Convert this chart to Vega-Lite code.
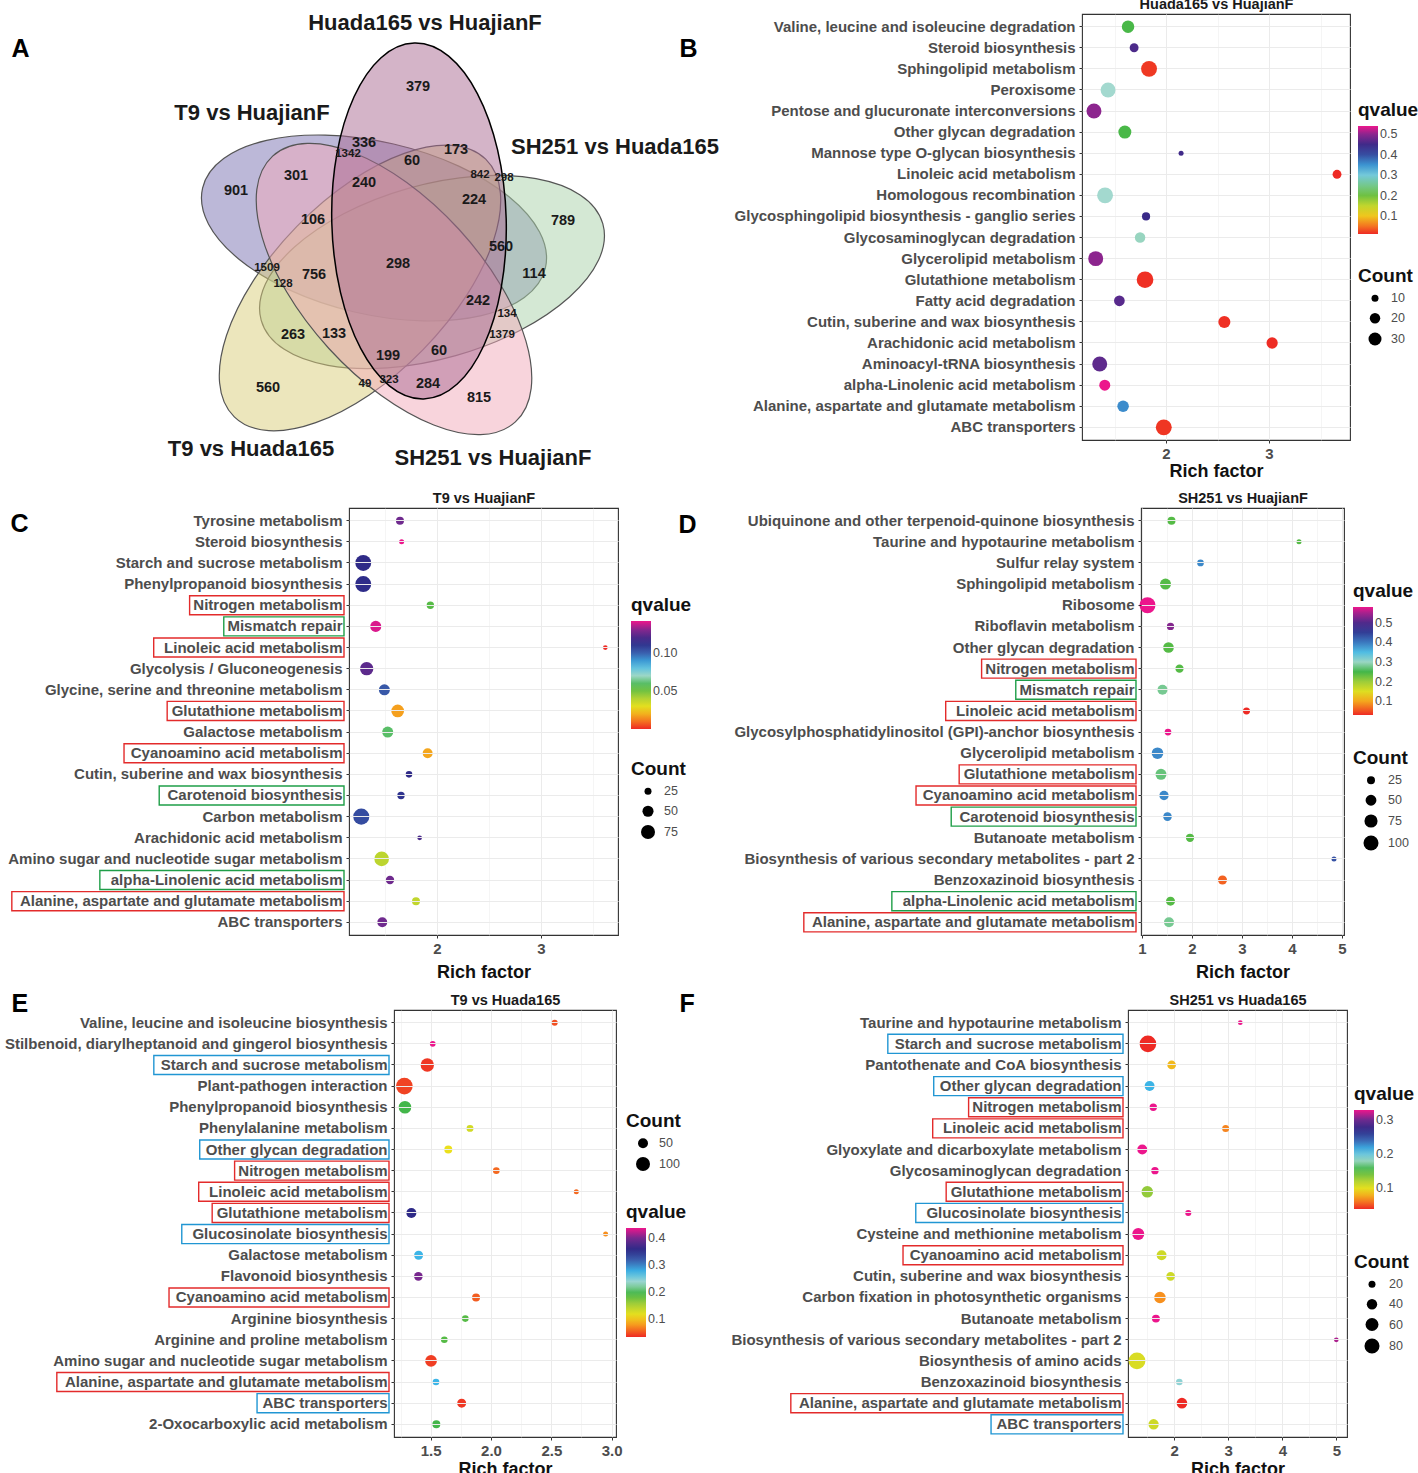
{
  "$schema": "https://vega.github.io/schema/vega-lite/v6.json",
  "padding": {"left": 3, "top": -5, "right": 0, "bottom": 0},
  "config": {
    "font": "Liberation Sans",
    "view": {"stroke": "#333333", "strokeWidth": 1.1},
    "legend": {"titleFontSize": 19, "titleFontWeight": "bold", "titleColor": "#111111", "labelFontSize": 12.5, "labelColor": "#4d4d4d", "gradientStrokeWidth": 0, "symbolFillColor": "#000000", "symbolStrokeWidth": 0, "symbolType": "circle", "symbolOpacity": 1, "symbolOffset": 10, "rowPadding": 7, "titlePadding": 6, "labelOffset": 9, "labelOverlap": false},
    "axis": {"labelColor": "#4d4d4d", "labelFontWeight": "bold", "tickColor": "#333333", "tickSize": 3, "domain": false, "gridColor": "#ebebeb"}
  },
  "datasets": {
    "B": [
      {"pathway": "Valine, leucine and isoleucine degradation", "rich": 1.631, "count": 28, "q": 0.22},
      {"pathway": "Steroid biosynthesis", "rich": 1.69, "count": 15, "q": 0.46},
      {"pathway": "Sphingolipid metabolism", "rich": 1.835, "count": 44, "q": 0.02},
      {"pathway": "Peroxisome", "rich": 1.437, "count": 39, "q": 0.276},
      {"pathway": "Pentose and glucuronate interconversions", "rich": 1.3, "count": 39, "q": 0.5},
      {"pathway": "Other glycan degradation", "rich": 1.6, "count": 30, "q": 0.22},
      {"pathway": "Mannose type O-glycan biosynthesis", "rich": 2.146, "count": 6, "q": 0.45},
      {"pathway": "Linoleic acid metabolism", "rich": 3.66, "count": 15, "q": 0.012},
      {"pathway": "Homologous recombination", "rich": 1.408, "count": 44, "q": 0.276},
      {"pathway": "Glycosphingolipid biosynthesis - ganglio series", "rich": 1.806, "count": 13, "q": 0.445},
      {"pathway": "Glycosaminoglycan degradation", "rich": 1.748, "count": 20, "q": 0.27},
      {"pathway": "Glycerolipid metabolism", "rich": 1.317, "count": 39, "q": 0.5},
      {"pathway": "Glutathione metabolism", "rich": 1.796, "count": 48, "q": 0.015},
      {"pathway": "Fatty acid degradation", "rich": 1.547, "count": 21, "q": 0.47},
      {"pathway": "Cutin, suberine and wax biosynthesis", "rich": 2.566, "count": 26, "q": 0.015},
      {"pathway": "Arachidonic acid metabolism", "rich": 3.03, "count": 23, "q": 0.013},
      {"pathway": "Aminoacyl-tRNA biosynthesis", "rich": 1.356, "count": 39, "q": 0.475},
      {"pathway": "alpha-Linolenic acid metabolism", "rich": 1.405, "count": 22, "q": 0.54},
      {"pathway": "Alanine, aspartate and glutamate metabolism", "rich": 1.583, "count": 24, "q": 0.355},
      {"pathway": "ABC transporters", "rich": 1.978, "count": 44, "q": 0.018}
    ],
    "C": [
      {"pathway": "Tyrosine metabolism", "rich": 1.644, "count": 30, "q": 0.128},
      {"pathway": "Steroid biosynthesis", "rich": 1.66, "count": 17, "q": 0.142},
      {"pathway": "Starch and sucrose metabolism", "rich": 1.291, "count": 94, "q": 0.114},
      {"pathway": "Phenylpropanoid biosynthesis", "rich": 1.291, "count": 95, "q": 0.113},
      {"pathway": "Nitrogen metabolism", "rich": 1.936, "count": 27, "q": 0.054, "group": "shared"},
      {"pathway": "Mismatch repair", "rich": 1.411, "count": 50, "q": 0.14, "group": "vsHuajianF"},
      {"pathway": "Linoleic acid metabolism", "rich": 3.618, "count": 16, "q": 0.0, "group": "shared"},
      {"pathway": "Glycolysis / Gluconeogenesis", "rich": 1.324, "count": 69, "q": 0.124},
      {"pathway": "Glycine, serine and threonine metabolism", "rich": 1.494, "count": 50, "q": 0.102},
      {"pathway": "Glutathione metabolism", "rich": 1.622, "count": 63, "q": 0.017, "group": "shared"},
      {"pathway": "Galactose metabolism", "rich": 1.526, "count": 50, "q": 0.06},
      {"pathway": "Cyanoamino acid metabolism", "rich": 1.91, "count": 42, "q": 0.018, "group": "shared"},
      {"pathway": "Cutin, suberine and wax biosynthesis", "rich": 1.731, "count": 23, "q": 0.114},
      {"pathway": "Carotenoid biosynthesis", "rich": 1.654, "count": 27, "q": 0.111, "group": "vsHuajianF"},
      {"pathway": "Carbon metabolism", "rich": 1.272, "count": 97, "q": 0.105},
      {"pathway": "Arachidonic acid metabolism", "rich": 1.833, "count": 16, "q": 0.12},
      {"pathway": "Amino sugar and nucleotide sugar metabolism", "rich": 1.468, "count": 81, "q": 0.038},
      {"pathway": "alpha-Linolenic acid metabolism", "rich": 1.548, "count": 32, "q": 0.128, "group": "vsHuajianF"},
      {"pathway": "Alanine, aspartate and glutamate metabolism", "rich": 1.798, "count": 30, "q": 0.037, "group": "shared"},
      {"pathway": "ABC transporters", "rich": 1.474, "count": 42, "q": 0.128}
    ],
    "D": [
      {"pathway": "Ubiquinone and other terpenoid-quinone biosynthesis", "rich": 1.59, "count": 25, "q": 0.24},
      {"pathway": "Taurine and hypotaurine metabolism", "rich": 4.14, "count": 7, "q": 0.24},
      {"pathway": "Sulfur relay system", "rich": 2.17, "count": 16, "q": 0.39},
      {"pathway": "Sphingolipid metabolism", "rich": 1.47, "count": 52, "q": 0.24},
      {"pathway": "Ribosome", "rich": 1.11, "count": 114, "q": 0.58},
      {"pathway": "Riboflavin metabolism", "rich": 1.57, "count": 20, "q": 0.535},
      {"pathway": "Other glycan degradation", "rich": 1.53, "count": 48, "q": 0.24},
      {"pathway": "Nitrogen metabolism", "rich": 1.75, "count": 27, "q": 0.24, "group": "shared"},
      {"pathway": "Mismatch repair", "rich": 1.41, "count": 42, "q": 0.28, "group": "vsHuajianF"},
      {"pathway": "Linoleic acid metabolism", "rich": 3.09, "count": 18, "q": 0.03, "group": "shared"},
      {"pathway": "Glycosylphosphatidylinositol (GPI)-anchor biosynthesis", "rich": 1.52, "count": 16, "q": 0.58},
      {"pathway": "Glycerolipid metabolism", "rich": 1.31, "count": 58, "q": 0.39},
      {"pathway": "Glutathione metabolism", "rich": 1.38, "count": 52, "q": 0.27, "group": "shared"},
      {"pathway": "Cyanoamino acid metabolism", "rich": 1.44, "count": 36, "q": 0.39, "group": "shared"},
      {"pathway": "Carotenoid biosynthesis", "rich": 1.51, "count": 30, "q": 0.39, "group": "vsHuajianF"},
      {"pathway": "Butanoate metabolism", "rich": 1.96, "count": 27, "q": 0.24},
      {"pathway": "Biosynthesis of various secondary metabolites - part 2", "rich": 4.84, "count": 7, "q": 0.43},
      {"pathway": "Benzoxazinoid biosynthesis", "rich": 2.61, "count": 33, "q": 0.06},
      {"pathway": "alpha-Linolenic acid metabolism", "rich": 1.57, "count": 33, "q": 0.24, "group": "vsHuajianF"},
      {"pathway": "Alanine, aspartate and glutamate metabolism", "rich": 1.54, "count": 42, "q": 0.28, "group": "shared"}
    ],
    "E": [
      {"pathway": "Valine, leucine and isoleucine biosynthesis", "rich": 2.528, "count": 17, "q": 0.05},
      {"pathway": "Stilbenoid, diarylheptanoid and gingerol biosynthesis", "rich": 1.517, "count": 15, "q": 0.437},
      {"pathway": "Starch and sucrose metabolism", "rich": 1.472, "count": 91, "q": 0.04, "group": "vsHuada165"},
      {"pathway": "Plant-pathogen interaction", "rich": 1.282, "count": 143, "q": 0.045},
      {"pathway": "Phenylpropanoid biosynthesis", "rich": 1.287, "count": 81, "q": 0.196},
      {"pathway": "Phenylalanine metabolism", "rich": 1.826, "count": 23, "q": 0.13},
      {"pathway": "Other glycan degradation", "rich": 1.646, "count": 31, "q": 0.115, "group": "vsHuada165"},
      {"pathway": "Nitrogen metabolism", "rich": 2.044, "count": 21, "q": 0.06, "group": "shared"},
      {"pathway": "Linoleic acid metabolism", "rich": 2.707, "count": 11, "q": 0.06, "group": "shared"},
      {"pathway": "Glutathione metabolism", "rich": 1.34, "count": 50, "q": 0.357, "group": "shared"},
      {"pathway": "Glucosinolate biosynthesis", "rich": 2.95, "count": 11, "q": 0.075, "group": "vsHuada165"},
      {"pathway": "Galactose metabolism", "rich": 1.4, "count": 40, "q": 0.276},
      {"pathway": "Flavonoid biosynthesis", "rich": 1.398, "count": 37, "q": 0.4},
      {"pathway": "Cyanoamino acid metabolism", "rich": 1.876, "count": 31, "q": 0.055, "group": "shared"},
      {"pathway": "Arginine biosynthesis", "rich": 1.787, "count": 21, "q": 0.188},
      {"pathway": "Arginine and proline metabolism", "rich": 1.613, "count": 21, "q": 0.188},
      {"pathway": "Amino sugar and nucleotide sugar metabolism", "rich": 1.503, "count": 69, "q": 0.043},
      {"pathway": "Alanine, aspartate and glutamate metabolism", "rich": 1.544, "count": 21, "q": 0.276, "group": "shared"},
      {"pathway": "ABC transporters", "rich": 1.757, "count": 40, "q": 0.04, "group": "vsHuada165"},
      {"pathway": "2-Oxocarboxylic acid metabolism", "rich": 1.547, "count": 31, "q": 0.196}
    ],
    "F": [
      {"pathway": "Taurine and hypotaurine metabolism", "rich": 3.222, "count": 11, "q": 0.33},
      {"pathway": "Starch and sucrose metabolism", "rich": 1.512, "count": 98, "q": 0.039, "group": "vsHuada165"},
      {"pathway": "Pantothenate and CoA biosynthesis", "rich": 1.951, "count": 29, "q": 0.083},
      {"pathway": "Other glycan degradation", "rich": 1.543, "count": 37, "q": 0.214, "group": "vsHuada165"},
      {"pathway": "Nitrogen metabolism", "rich": 1.611, "count": 22, "q": 0.33, "group": "shared"},
      {"pathway": "Linoleic acid metabolism", "rich": 2.951, "count": 20, "q": 0.065, "group": "shared"},
      {"pathway": "Glyoxylate and dicarboxylate metabolism", "rich": 1.407, "count": 37, "q": 0.33},
      {"pathway": "Glycosaminoglycan degradation", "rich": 1.642, "count": 22, "q": 0.33},
      {"pathway": "Glutathione metabolism", "rich": 1.5, "count": 49, "q": 0.132, "group": "shared"},
      {"pathway": "Glucosinolate biosynthesis", "rich": 2.259, "count": 16, "q": 0.33, "group": "vsHuada165"},
      {"pathway": "Cysteine and methionine metabolism", "rich": 1.333, "count": 52, "q": 0.33},
      {"pathway": "Cyanoamino acid metabolism", "rich": 1.765, "count": 37, "q": 0.11, "group": "shared"},
      {"pathway": "Cutin, suberine and wax biosynthesis", "rich": 1.932, "count": 29, "q": 0.11},
      {"pathway": "Carbon fixation in photosynthetic organisms", "rich": 1.735, "count": 49, "q": 0.068},
      {"pathway": "Butanoate metabolism", "rich": 1.66, "count": 25, "q": 0.33},
      {"pathway": "Biosynthesis of various secondary metabolites - part 2", "rich": 5.0, "count": 11, "q": 0.315},
      {"pathway": "Biosynthesis of amino acids", "rich": 1.309, "count": 100, "q": 0.105},
      {"pathway": "Benzoxazinoid biosynthesis", "rich": 2.093, "count": 18, "q": 0.19},
      {"pathway": "Alanine, aspartate and glutamate metabolism", "rich": 2.142, "count": 42, "q": 0.039, "group": "shared"},
      {"pathway": "ABC transporters", "rich": 1.617, "count": 40, "q": 0.11, "group": "vsHuada165"}
    ]
  },
  "columns": 1,
  "align": "none",
  "spacing": 8,
  "resolve": {"scale": {"x": "independent", "y": "independent", "color": "independent", "size": "independent"}, "legend": {"color": "independent", "size": "independent"}, "axis": {"x": "independent", "y": "independent"}},
  "concat": [
    {
      "bounds": "flush",
      "spacing": 433,
      "resolve": {"scale": {"x": "independent", "y": "independent", "color": "independent", "size": "independent"}, "legend": {"color": "independent", "size": "independent"}, "axis": {"x": "independent", "y": "independent"}},
      "hconcat": [
        {
          "width": 300,
          "height": 426,
          "view": {"stroke": null},
          "encoding": {
            "x": {"field": "x", "type": "quantitative", "scale": {"domain": [348, 648], "nice": false, "zero": false}, "axis": null},
            "y": {"field": "y", "type": "quantitative", "scale": {"domain": [13, 439], "nice": false, "zero": false, "reverse": true}, "axis": {"title": "A", "titleAngle": 0, "titleX": -338, "titleY": 42, "titleAlign": "left", "titleBaseline": "alphabetic", "titleFontSize": 25, "titleFontWeight": "bold", "titleColor": "#000000", "labels": false, "ticks": false, "domain": false, "grid": false}}
          },
          "layer": [
            {"data": {"values": [{"set": "T9 vs HuajianF", "x": 373, "y": 227}]}, "mark": {"type": "point", "shape": "M1,0C1,0.2706,0.5523,0.49,0,0.49C-0.5523,0.49,-1,0.2706,-1,0C-1,-0.2706,-0.5523,-0.49,0,-0.49C0.5523,-0.49,1,-0.2706,1,0Z", "size": 123904, "angle": 13.1, "filled": true, "fill": "#7971b1", "fillOpacity": 0.5, "opacity": 1, "stroke": "#555555", "strokeWidth": 1.2, "strokeOpacity": 1}},
            {"data": {"values": [{"set": "SH251 vs Huada165", "x": 431, "y": 271}]}, "mark": {"type": "point", "shape": "M1,0C1,0.2706,0.5523,0.49,0,0.49C-0.5523,0.49,-1,0.2706,-1,0C-1,-0.2706,-0.5523,-0.49,0,-0.49C0.5523,-0.49,1,-0.2706,1,0Z", "size": 126025, "angle": -15.8, "filled": true, "fill": "#a9d1a9", "fillOpacity": 0.5, "opacity": 1, "stroke": "#555555", "strokeWidth": 1.2, "strokeOpacity": 1}},
            {"data": {"values": [{"set": "T9 vs Huada165", "x": 359, "y": 287}]}, "mark": {"type": "point", "shape": "M1,0C1,0.2706,0.5523,0.49,0,0.49C-0.5523,0.49,-1,0.2706,-1,0C-1,-0.2706,-0.5523,-0.49,0,-0.49C0.5523,-0.49,1,-0.2706,1,0Z", "size": 129600, "angle": -45.7, "filled": true, "fill": "#d9cd79", "fillOpacity": 0.5, "opacity": 1, "stroke": "#555555", "strokeWidth": 1.2, "strokeOpacity": 1}},
            {"data": {"values": [{"set": "SH251 vs HuajianF", "x": 393, "y": 288}]}, "mark": {"type": "point", "shape": "M1,0C1,0.2706,0.5523,0.49,0,0.49C-0.5523,0.49,-1,0.2706,-1,0C-1,-0.2706,-0.5523,-0.49,0,-0.49C0.5523,-0.49,1,-0.2706,1,0Z", "size": 129600, "angle": 47.6, "filled": true, "fill": "#f1a9b9", "fillOpacity": 0.5, "opacity": 1, "stroke": "#555555", "strokeWidth": 1.2, "strokeOpacity": 1}},
            {"data": {"values": [{"set": "Huada165 vs HuajianF", "x": 418, "y": 220}]}, "mark": {"type": "point", "shape": "M1,0C1,0.2706,0.5523,0.49,0,0.49C-0.5523,0.49,-1,0.2706,-1,0C-1,-0.2706,-0.5523,-0.49,0,-0.49C0.5523,-0.49,1,-0.2706,1,0Z", "size": 126736, "angle": 88.5, "filled": true, "fill": "#a96991", "fillOpacity": 0.5, "opacity": 1, "stroke": "#000000", "strokeWidth": 1.5, "strokeOpacity": 1}},
            {
              "data": {"values": [
                {"n": "379", "x": 417, "y": 86}, {"n": "336", "x": 363, "y": 142}, {"n": "60", "x": 411, "y": 160}, {"n": "173", "x": 455, "y": 149},
                {"n": "901", "x": 235, "y": 190}, {"n": "301", "x": 295, "y": 175}, {"n": "240", "x": 363, "y": 182}, {"n": "224", "x": 473, "y": 199},
                {"n": "789", "x": 562, "y": 220}, {"n": "106", "x": 312, "y": 219}, {"n": "560", "x": 500, "y": 246}, {"n": "298", "x": 397, "y": 263},
                {"n": "114", "x": 533, "y": 273}, {"n": "756", "x": 313, "y": 274}, {"n": "242", "x": 477, "y": 300}, {"n": "263", "x": 292, "y": 334},
                {"n": "133", "x": 333, "y": 333}, {"n": "199", "x": 387, "y": 355}, {"n": "60", "x": 438, "y": 350}, {"n": "560", "x": 267, "y": 387},
                {"n": "284", "x": 427, "y": 383}, {"n": "815", "x": 478, "y": 397}
              ]},
              "mark": {"type": "text", "fontSize": 14.5, "fontWeight": "bold", "color": "#1a1a1a", "align": "center", "baseline": "middle"},
              "encoding": {"text": {"field": "n"}}
            },
            {
              "data": {"values": [
                {"n": "1342", "x": 347, "y": 153}, {"n": "842", "x": 479, "y": 174}, {"n": "298", "x": 503, "y": 177}, {"n": "1509", "x": 266, "y": 267},
                {"n": "128", "x": 282, "y": 283}, {"n": "134", "x": 506, "y": 313}, {"n": "1379", "x": 501, "y": 334}, {"n": "49", "x": 364, "y": 383},
                {"n": "323", "x": 388, "y": 379}
              ]},
              "mark": {"type": "text", "fontSize": 11.5, "fontWeight": "bold", "color": "#1a1a1a", "align": "center", "baseline": "middle"},
              "encoding": {"text": {"field": "n"}}
            },
            {
              "data": {"values": [
                {"label": "Huada165 vs HuajianF", "x": 424, "y": 22},
                {"label": "T9 vs HuajianF", "x": 251, "y": 112},
                {"label": "SH251 vs Huada165", "x": 614, "y": 146},
                {"label": "T9 vs Huada165", "x": 250, "y": 448},
                {"label": "SH251 vs HuajianF", "x": 492, "y": 457}
              ]},
              "mark": {"type": "text", "fontSize": 22, "fontWeight": "bold", "color": "#1a1a1a", "align": "center", "baseline": "middle"},
              "encoding": {"text": {"field": "label"}}
            }
          ]
        },
        {
          "width": 268,
          "height": 426,
          "data": {"name": "B"},
          "resolve": {"axis": {"x": "independent"}},
          "encoding": {
            "y": {"field": "pathway", "type": "nominal", "sort": null, "scale": {"type": "band", "paddingInner": 0.1, "paddingOuter": 0.15},
              "axis": {"title": "B", "titleAngle": 0, "titleX": -403, "titleY": 42, "titleAlign": "left", "titleBaseline": "alphabetic", "titleFontSize": 25, "titleFontWeight": "bold", "titleColor": "#000000", "labelFontSize": 15, "labelLimit": 600, "labelPadding": 4, "grid": true}}
          },
          "layer": [
            {
              "mark": {"type": "circle", "opacity": 1},
              "encoding": {
                "x": {"field": "rich", "type": "quantitative", "scale": {"domain": [1.184, 3.786], "nice": false, "zero": false},
                  "axis": {"title": "Rich factor", "titleFontSize": 18, "titleFontWeight": "bold", "titleColor": "#111111", "titlePadding": 1, "labelFontSize": 15, "labelPadding": 3, "format": ".0f", "values": [1.5, 2, 2.5, 3, 3.5], "labelExpr": "(datum.value % 1 !== 0) ? '' : datum.label", "tickOpacity": {"condition": {"test": "datum.value % 1 !== 0", "value": 0}, "value": 1}, "gridWidth": {"condition": {"test": "datum.value % 1 !== 0", "value": 0.5}, "value": 1}}},
                "size": {"field": "count", "type": "quantitative", "scale": {"domain": [5, 50], "range": [19, 289], "zero": false}, "legend": {"title": "Count", "orient": "none", "legendX": 276, "legendY": 253, "values": [10, 20, 30], "symbolFillColor": "#000000"}},
                "color": {"field": "q", "type": "quantitative", "scale": {"domain": [0.012, 0.54], "range": ["#ee2a24","#f7901e","#ebe11c","#a6cf38","#43b649","#a3d9cf","#3cb5e7","#3b62b0","#2d2a87","#6d2a8e","#ec168c"], "interpolate": "rgb"}, "legend": {"title": "qvalue", "orient": "none", "legendX": 276, "legendY": 87, "gradientLength": 108, "gradientThickness": 20, "values": [0.1, 0.2, 0.3, 0.4, 0.5], "format": ".1f"}}
              }
            },
            {
              "mark": {"type": "circle", "opacity": 0},
              "encoding": {"x": {"field": "rich", "type": "quantitative", "axis": {"orient": "top", "title": "Huada165 vs HuajianF", "titleFontSize": 14.5, "titleFontWeight": "bold", "titleColor": "#1a1a1a", "titlePadding": 3, "labels": false, "ticks": false, "grid": false, "domain": false}}}
            }
          ]
        }
      ]
    },
    {
      "bounds": "flush",
      "spacing": 523,
      "resolve": {"scale": {"x": "independent", "y": "independent", "color": "independent", "size": "independent"}, "legend": {"color": "independent", "size": "independent"}, "axis": {"x": "independent", "y": "independent"}},
      "hconcat": [
        {
          "width": 269,
          "height": 427,
          "data": {"name": "C"},
          "resolve": {"axis": {"x": "independent"}},
          "encoding": {
            "y": {"field": "pathway", "type": "nominal", "sort": null, "scale": {"type": "band", "paddingInner": 0.1, "paddingOuter": 0.15},
              "axis": {"title": "C", "titleAngle": 0, "titleX": -339, "titleY": 23, "titleAlign": "left", "titleBaseline": "alphabetic", "titleFontSize": 25, "titleFontWeight": "bold", "titleColor": "#000000", "labelFontSize": 15, "labelLimit": 600, "labelPadding": 4, "grid": true}}
          },
          "layer": [
            {
              "mark": {"type": "rect", "x": {"expr": "isValid(datum.group) ? (-12 - 1.02*(8.8*length(datum.pathway) - 4.4*length(replace(datum.pathway, regexp('[^iljtfrI ,.()/-]','g'), '')) + 2.7*length(replace(datum.pathway, regexp('[^mwA-HJ-Z]','g'), '')))) : -6"}, "x2": -5, "fillOpacity": 0, "strokeWidth": 1.4},
              "encoding": {"stroke": {"condition": [{"test": "datum.group === 'shared'", "value": "#e32b2b"}, {"test": "datum.group === 'vsHuajianF'", "value": "#1f9e48"}, {"test": "datum.group === 'vsHuada165'", "value": "#2196d3"}], "value": "transparent"}}
            },
            {
              "mark": {"type": "circle", "opacity": 1},
              "encoding": {
                "x": {"field": "rich", "type": "quantitative", "scale": {"domain": [1.154, 3.74], "nice": false, "zero": false},
                  "axis": {"title": "Rich factor", "titleFontSize": 18, "titleFontWeight": "bold", "titleColor": "#111111", "titlePadding": 7, "labelFontSize": 15, "labelPadding": 3, "format": ".0f", "values": [1.5, 2, 2.5, 3, 3.5], "labelExpr": "(datum.value % 1 !== 0) ? '' : datum.label", "tickOpacity": {"condition": {"test": "datum.value % 1 !== 0", "value": 0}, "value": 1}, "gridWidth": {"condition": {"test": "datum.value % 1 !== 0", "value": 0.5}, "value": 1}}},
                "size": {"field": "count", "type": "quantitative", "scale": {"domain": [10, 100], "range": [4.9, 269.5], "zero": false}, "legend": {"title": "Count", "orient": "none", "legendX": 282, "legendY": 252, "values": [25, 50, 75], "symbolFillColor": "#000000"}},
                "color": {"field": "q", "type": "quantitative", "scale": {"domain": [0.0, 0.142], "range": ["#ee2a24","#f7901e","#ebe11c","#a6cf38","#43b649","#a3d9cf","#3cb5e7","#3b62b0","#2d2a87","#6d2a8e","#ec168c"], "interpolate": "rgb"}, "legend": {"title": "qvalue", "orient": "none", "legendX": 282, "legendY": 88, "gradientLength": 108, "gradientThickness": 20, "values": [0.05, 0.1], "format": ".2f"}}
              }
            },
            {
              "mark": {"type": "circle", "opacity": 0},
              "encoding": {"x": {"field": "rich", "type": "quantitative", "axis": {"orient": "top", "title": "T9 vs HuajianF", "titleFontSize": 14.5, "titleFontWeight": "bold", "titleColor": "#1a1a1a", "titlePadding": 3, "labels": false, "ticks": false, "grid": false, "domain": false}}}
            }
          ]
        },
        {
          "width": 203,
          "height": 427,
          "data": {"name": "D"},
          "resolve": {"axis": {"x": "independent"}},
          "encoding": {
            "y": {"field": "pathway", "type": "nominal", "sort": null, "scale": {"type": "band", "paddingInner": 0.1, "paddingOuter": 0.15},
              "axis": {"title": "D", "titleAngle": 0, "titleX": -463, "titleY": 24, "titleAlign": "left", "titleBaseline": "alphabetic", "titleFontSize": 25, "titleFontWeight": "bold", "titleColor": "#000000", "labelFontSize": 15, "labelLimit": 600, "labelPadding": 4, "grid": true}}
          },
          "layer": [
            {
              "mark": {"type": "rect", "x": {"expr": "isValid(datum.group) ? (-12 - 1.02*(8.8*length(datum.pathway) - 4.4*length(replace(datum.pathway, regexp('[^iljtfrI ,.()/-]','g'), '')) + 2.7*length(replace(datum.pathway, regexp('[^mwA-HJ-Z]','g'), '')))) : -6"}, "x2": -5, "fillOpacity": 0, "strokeWidth": 1.4},
              "encoding": {"stroke": {"condition": [{"test": "datum.group === 'shared'", "value": "#e32b2b"}, {"test": "datum.group === 'vsHuajianF'", "value": "#1f9e48"}, {"test": "datum.group === 'vsHuada165'", "value": "#2196d3"}], "value": "transparent"}}
            },
            {
              "mark": {"type": "circle", "opacity": 1},
              "encoding": {
                "x": {"field": "rich", "type": "quantitative", "scale": {"domain": [0.98, 5.04], "nice": false, "zero": false},
                  "axis": {"title": "Rich factor", "titleFontSize": 18, "titleFontWeight": "bold", "titleColor": "#111111", "titlePadding": 7, "labelFontSize": 15, "labelPadding": 3, "format": ".0f", "values": [1, 1.5, 2, 2.5, 3, 3.5, 4, 4.5, 5], "labelExpr": "(datum.value % 1 !== 0) ? '' : datum.label", "tickOpacity": {"condition": {"test": "datum.value % 1 !== 0", "value": 0}, "value": 1}, "gridWidth": {"condition": {"test": "datum.value % 1 !== 0", "value": 0.5}, "value": 1}}},
                "size": {"field": "count", "type": "quantitative", "scale": {"domain": [5, 120], "range": [21, 268.25], "zero": false}, "legend": {"title": "Count", "orient": "none", "legendX": 212, "legendY": 241, "values": [25, 50, 75, 100], "symbolFillColor": "#000000"}},
                "color": {"field": "q", "type": "quantitative", "scale": {"domain": [0.03, 0.58], "range": ["#ee2a24","#f7901e","#ebe11c","#a6cf38","#43b649","#a3d9cf","#3cb5e7","#3b62b0","#2d2a87","#6d2a8e","#ec168c"], "interpolate": "rgb"}, "legend": {"title": "qvalue", "orient": "none", "legendX": 212, "legendY": 74, "gradientLength": 108, "gradientThickness": 20, "values": [0.1, 0.2, 0.3, 0.4, 0.5], "format": ".1f"}}
              }
            },
            {
              "mark": {"type": "circle", "opacity": 0},
              "encoding": {"x": {"field": "rich", "type": "quantitative", "axis": {"orient": "top", "title": "SH251 vs HuajianF", "titleFontSize": 14.5, "titleFontWeight": "bold", "titleColor": "#1a1a1a", "titlePadding": 3, "labels": false, "ticks": false, "grid": false, "domain": false}}}
            }
          ]
        }
      ]
    },
    {
      "bounds": "flush",
      "spacing": 5,
      "resolve": {"scale": {"x": "independent", "y": "independent", "color": "independent", "size": "independent"}, "legend": {"color": "independent", "size": "independent"}, "axis": {"x": "independent", "y": "independent"}},
      "hconcat": [
        {"width": 40, "height": 10, "view": {"stroke": null}, "data": {"values": []}, "mark": "point"},
        {
          "bounds": "flush",
          "spacing": 512,
          "resolve": {"scale": {"x": "independent", "y": "independent", "color": "independent", "size": "independent"}, "legend": {"color": "independent", "size": "independent"}, "axis": {"x": "independent", "y": "independent"}},
          "hconcat": [
            {
              "width": 222,
              "height": 427,
              "data": {"name": "E"},
              "resolve": {"axis": {"x": "independent"}},
              "encoding": {
                "y": {"field": "pathway", "type": "nominal", "sort": null, "scale": {"type": "band", "paddingInner": 0.1, "paddingOuter": 0.15},
                  "axis": {"title": "E", "titleAngle": 0, "titleX": -383, "titleY": 1, "titleAlign": "left", "titleBaseline": "alphabetic", "titleFontSize": 25, "titleFontWeight": "bold", "titleColor": "#000000", "labelFontSize": 15, "labelLimit": 600, "labelPadding": 4, "grid": true}}
              },
              "layer": [
                {
                  "mark": {"type": "rect", "x": {"expr": "isValid(datum.group) ? (-12 - 1.02*(8.8*length(datum.pathway) - 4.4*length(replace(datum.pathway, regexp('[^iljtfrI ,.()/-]','g'), '')) + 2.7*length(replace(datum.pathway, regexp('[^mwA-HJ-Z]','g'), '')))) : -6"}, "x2": -5, "fillOpacity": 0, "strokeWidth": 1.4},
                  "encoding": {"stroke": {"condition": [{"test": "datum.group === 'shared'", "value": "#e32b2b"}, {"test": "datum.group === 'vsHuajianF'", "value": "#1f9e48"}, {"test": "datum.group === 'vsHuada165'", "value": "#2196d3"}], "value": "transparent"}}
                },
                {
                  "mark": {"type": "circle", "opacity": 1},
                  "encoding": {
                    "x": {"field": "rich", "type": "quantitative", "scale": {"domain": [1.196, 3.036], "nice": false, "zero": false},
                      "axis": {"title": "Rich factor", "titleFontSize": 18, "titleFontWeight": "bold", "titleColor": "#111111", "titlePadding": 2, "labelFontSize": 15, "labelPadding": 3, "format": ".1f", "values": [1.25, 1.5, 1.75, 2, 2.25, 2.5, 2.75, 3], "labelExpr": "((datum.value*4) % 2 !== 0) ? '' : datum.label", "tickOpacity": {"condition": {"test": "(datum.value*4) % 2 !== 0", "value": 0}, "value": 1}, "gridWidth": {"condition": {"test": "(datum.value*4) % 2 !== 0", "value": 0.5}, "value": 1}}},
                    "size": {"field": "count", "type": "quantitative", "scale": {"domain": [5, 150], "range": [13.6, 292], "zero": false}, "legend": {"title": "Count", "orient": "none", "legendX": 232, "legendY": 102, "values": [50, 100], "symbolFillColor": "#000000"}},
                    "color": {"field": "q", "type": "quantitative", "scale": {"domain": [0.035, 0.437], "range": ["#ee2a24","#f7901e","#ebe11c","#a6cf38","#43b649","#a3d9cf","#3cb5e7","#3b62b0","#2d2a87","#6d2a8e","#ec168c"], "interpolate": "rgb"}, "legend": {"title": "qvalue", "orient": "none", "legendX": 232, "legendY": 193, "gradientLength": 109, "gradientThickness": 20, "values": [0.1, 0.2, 0.3, 0.4], "format": ".1f"}}
                  }
                },
                {
                  "mark": {"type": "circle", "opacity": 0},
                  "encoding": {"x": {"field": "rich", "type": "quantitative", "axis": {"orient": "top", "title": "T9 vs Huada165", "titleFontSize": 14.5, "titleFontWeight": "bold", "titleColor": "#1a1a1a", "titlePadding": 3, "labels": false, "ticks": false, "grid": false, "domain": false}}}
                }
              ]
            },
            {
              "width": 219,
              "height": 427,
              "data": {"name": "F"},
              "resolve": {"axis": {"x": "independent"}},
              "encoding": {
                "y": {"field": "pathway", "type": "nominal", "sort": null, "scale": {"type": "band", "paddingInner": 0.1, "paddingOuter": 0.15},
                  "axis": {"title": "F", "titleAngle": 0, "titleX": -449, "titleY": 1, "titleAlign": "left", "titleBaseline": "alphabetic", "titleFontSize": 25, "titleFontWeight": "bold", "titleColor": "#000000", "labelFontSize": 15, "labelLimit": 600, "labelPadding": 4, "grid": true}}
              },
              "layer": [
                {
                  "mark": {"type": "rect", "x": {"expr": "isValid(datum.group) ? (-12 - 1.02*(8.8*length(datum.pathway) - 4.4*length(replace(datum.pathway, regexp('[^iljtfrI ,.()/-]','g'), '')) + 2.7*length(replace(datum.pathway, regexp('[^mwA-HJ-Z]','g'), '')))) : -6"}, "x2": -5, "fillOpacity": 0, "strokeWidth": 1.4},
                  "encoding": {"stroke": {"condition": [{"test": "datum.group === 'shared'", "value": "#e32b2b"}, {"test": "datum.group === 'vsHuajianF'", "value": "#1f9e48"}, {"test": "datum.group === 'vsHuada165'", "value": "#2196d3"}], "value": "transparent"}}
                },
                {
                  "mark": {"type": "circle", "opacity": 1},
                  "encoding": {
                    "x": {"field": "rich", "type": "quantitative", "scale": {"domain": [1.143, 5.198], "nice": false, "zero": false},
                      "axis": {"title": "Rich factor", "titleFontSize": 18, "titleFontWeight": "bold", "titleColor": "#111111", "titlePadding": 2, "labelFontSize": 15, "labelPadding": 3, "format": ".0f", "values": [1.5, 2, 2.5, 3, 3.5, 4, 4.5, 5], "labelExpr": "(datum.value % 1 !== 0) ? '' : datum.label", "tickOpacity": {"condition": {"test": "datum.value % 1 !== 0", "value": 0}, "value": 1}, "gridWidth": {"condition": {"test": "datum.value % 1 !== 0", "value": 0.5}, "value": 1}}},
                    "size": {"field": "count", "type": "quantitative", "scale": {"domain": [5, 110], "range": [4.75, 314.5], "zero": false}, "legend": {"title": "Count", "orient": "none", "legendX": 226, "legendY": 243, "values": [20, 40, 60, 80], "symbolFillColor": "#000000"}},
                    "color": {"field": "q", "type": "quantitative", "scale": {"domain": [0.039, 0.33], "range": ["#ee2a24","#f7901e","#ebe11c","#a6cf38","#43b649","#a3d9cf","#3cb5e7","#3b62b0","#2d2a87","#6d2a8e","#ec168c"], "interpolate": "rgb"}, "legend": {"title": "qvalue", "orient": "none", "legendX": 226, "legendY": 75, "gradientLength": 99, "gradientThickness": 20, "values": [0.1, 0.2, 0.3], "format": ".1f"}}
                  }
                },
                {
                  "mark": {"type": "circle", "opacity": 0},
                  "encoding": {"x": {"field": "rich", "type": "quantitative", "axis": {"orient": "top", "title": "SH251 vs Huada165", "titleFontSize": 14.5, "titleFontWeight": "bold", "titleColor": "#1a1a1a", "titlePadding": 3, "labels": false, "ticks": false, "grid": false, "domain": false}}}
                }
              ]
            }
          ]
        }
      ]
    }
  ]
}
